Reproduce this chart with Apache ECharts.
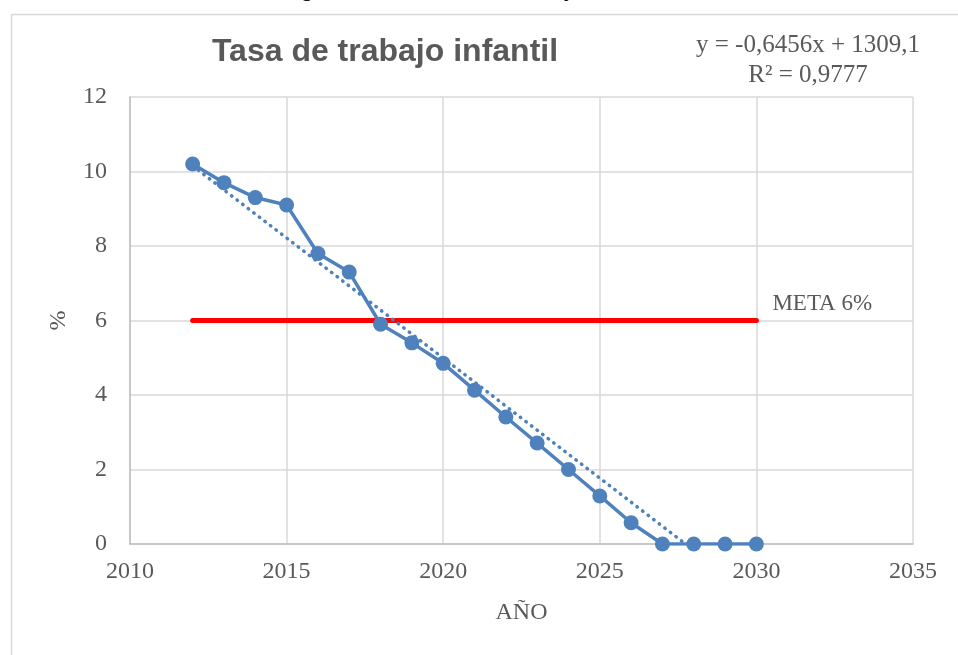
<!DOCTYPE html>
<html>
<head>
<meta charset="utf-8">
<script src="https://cdn.jsdelivr.net/npm/echarts@6/dist/echarts.min.js"></script>
<style>
html,body{margin:0;padding:0;background:#fff;}
#main{width:958px;height:655px;}
</style>
</head>
<body>
<div id="main"></div>
<script>
// ---- data ----
var years = [2012, 2013, 2014, 2015, 2016, 2017, 2018, 2019, 2020, 2021, 2022, 2023, 2024, 2025, 2026, 2027, 2028, 2029, 2030];
var tasa  = [10.2, 9.7, 9.3, 9.1, 7.8, 7.3, 5.9, 5.4, 4.85, 4.13, 3.41, 2.71, 2.0, 1.29, 0.57, 0, 0, 0, 0];
var metaYears = [2012, 2030];
var metaValues = [6, 6];
var trendYears = [2012, 2027.74];
var trendValues = [10.15, 0];
var xTicks = [2010, 2015, 2020, 2025, 2030, 2035];
var yTicks = [0, 2, 4, 6, 8, 10, 12];
var titleText = 'Tasa de trabajo infantil';
var eqLine1 = 'y = -0,6456x + 1309,1';
var eqLine2 = 'R\u00B2 = 0,9777';
var metaLabel = 'META 6%';
var xName = 'AÑO';
var yName = '%';
var topText = 'Regresión lineal de trabajo infantil';

function pairs(xs, ys) { return xs.map(function (x, i) { return [x, ys[i]]; }); }

var serif = '"Liberation Serif", "DejaVu Serif", serif';
var gray = '#595959';
var blue = '#4f81bd';

var chart = echarts.init(document.getElementById('main'), null, {renderer: 'canvas'});
chart.setOption({
  animation: false,
  backgroundColor: '#ffffff',
  title: {
    text: titleText,
    left: 380, top: 31, textAlign: 'center',
    textStyle: {fontFamily: '"Liberation Sans", Arial, sans-serif', fontWeight: 'bold', fontSize: 32, color: gray}
  },
  graphic: [
    {type: 'rect', left: 9, top: 12, shape: {width: 1000, height: 700},
     style: {fill: 'none', stroke: '#d9d9d9', lineWidth: 1.5}, silent: true, z: -10},
    {type: 'text', left: 265, top: -26, style: {text: topText, font: '27px "Liberation Sans", Arial, sans-serif', fill: '#000'}},
    {type: 'text', x: 808, y: 33, style: {text: eqLine1, font: '25px ' + serif, fill: gray, textAlign: 'center'}},
    {type: 'text', x: 808, y: 63, style: {text: eqLine2, font: '25px ' + serif, fill: gray, textAlign: 'center'}}
  ],
  grid: {left: 130, right: 45, top: 97, bottom: 111, containLabel: false},
  xAxis: {
    type: 'value', min: xTicks[0], max: xTicks[xTicks.length - 1], interval: 5,
    name: xName, nameLocation: 'middle', nameGap: 57,
    nameTextStyle: {fontFamily: serif, fontSize: 24, color: gray},
    axisLine: {show: true, lineStyle: {color: '#bfbfbf', width: 1.5}},
    axisTick: {show: false},
    axisLabel: {fontFamily: serif, fontSize: 24, color: gray, margin: 16, formatter: function (v) { return String(v); }},
    splitLine: {show: true, lineStyle: {color: '#d9d9d9', width: 1.5}}
  },
  yAxis: {
    type: 'value', min: yTicks[0], max: yTicks[yTicks.length - 1], interval: 2,
    name: yName, nameLocation: 'middle', nameGap: 59, nameRotate: 90,
    nameTextStyle: {fontFamily: serif, fontSize: 24, color: gray},
    axisLine: {show: true, lineStyle: {color: '#bfbfbf', width: 1.5}},
    axisTick: {show: false},
    axisLabel: {fontFamily: serif, fontSize: 24, color: gray, margin: 23},
    splitLine: {show: true, lineStyle: {color: '#d9d9d9', width: 1.5}}
  },
  series: [
    {
      type: 'line', data: pairs(metaYears, metaValues), symbol: 'none', z: 2,
      lineStyle: {color: '#ff0000', width: 5, cap: 'round'},
      endLabel: {show: true, formatter: metaLabel, fontFamily: serif, fontSize: 23, color: gray, distance: 16, offset: [0, -17]}
    },
    {
      type: 'line', data: pairs(trendYears, trendValues), symbol: 'none', z: 3,
      lineStyle: {color: blue, width: 3.5, type: [0.5, 6.5], cap: 'round'}
    },
    {
      type: 'line', data: pairs(years, tasa), symbol: 'circle', symbolSize: 15, z: 4,
      itemStyle: {color: blue},
      lineStyle: {color: blue, width: 3.5}
    }
  ]
});
</script>
</body>
</html>
